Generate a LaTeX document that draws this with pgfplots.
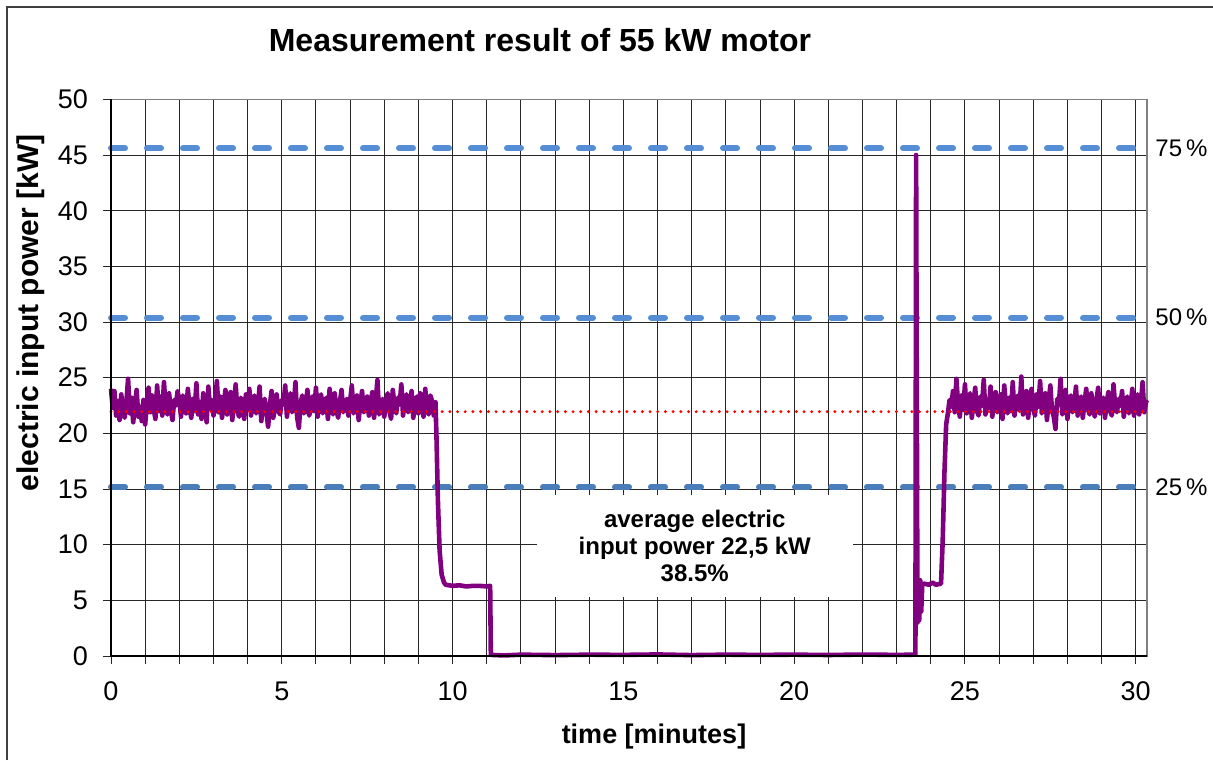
\documentclass[border=0pt]{standalone}
\usepackage{fontspec}
\setmainfont{Liberation Sans}
\usepackage{pgfplots}
\pgfplotsset{compat=1.18}
\definecolor{mpurple}{RGB}{128,0,128}
\definecolor{blueA}{RGB}{85,142,213}
\definecolor{blueB}{RGB}{74,126,187}
\begin{document}
\begin{tikzpicture}
\path[use as bounding box] (0,0) rectangle (606.5pt,380pt);
\draw[black!75, line width=0.7pt] (3.5pt,0) -- (3.5pt,376.5pt) -- (606.5pt,376.5pt);
\node[font=\fontsize{16}{19}\bfseries\selectfont] at (270pt,360pt) {Measurement result of 55 kW motor};
\node[font=\fontsize{13.5}{16}\bfseries\selectfont] at (327pt,11.5pt) {time [minutes]};
\node[font=\fontsize{15}{18}\bfseries\selectfont, rotate=90] at (15.5pt,223.5pt) {electric input power [kW]};
\begin{axis}[
  at={(55.5pt,52pt)}, anchor=south west,
  scale only axis, width=518pt, height=278.3pt,
  xmin=0, xmax=30.33, ymin=0, ymax=50,
  xtick={0,5,...,30}, minor x tick num=4,
  ytick={0,5,...,50},
  xmajorgrids, xminorgrids, ymajorgrids,
  major grid style={black!85, line width=0.5pt},
  minor grid style={black!85, line width=0.5pt},
  tick align=outside, major tick length=4pt, minor tick length=4pt,
  xtick pos=bottom, ytick pos=left,
  tick style={black!85, line width=0.5pt},
  axis line style={draw=gray, line width=0.7pt},
  tick label style={font=\fontsize{13.5}{16}\selectfont},
  xticklabel style={yshift=-5.5pt},
  yticklabel style={xshift=-4pt},
  /pgf/number format/assume math mode=true,
  clip=false,
]
\addplot[blueA, line width=3pt, dash pattern=on 7pt off 11pt, line cap=round] coordinates {(0,45.6)(30.33,45.6)};
\addplot[blueA, line width=3pt, dash pattern=on 7pt off 11pt, line cap=round] coordinates {(0,30.4)(30.33,30.4)};
\addplot[blueB, line width=3pt, dash pattern=on 7pt off 11pt, line cap=round] coordinates {(0,15.2)(30.33,15.2)};
\addplot[mpurple, line width=2.3pt, line join=round] coordinates {
(0.00,24.0)(0.05,22.3)(0.10,23.8)(0.15,21.6)(0.20,22.9)(0.25,21.2)(0.30,23.5)(0.35,22.0)(0.40,21.4)(0.45,22.8)
(0.50,24.9)(0.55,21.8)(0.60,23.2)(0.65,21.0)(0.70,22.6)(0.75,23.9)(0.80,21.5)(0.85,22.4)(0.90,21.1)(0.95,23.0)
(1.00,20.8)(1.05,22.7)(1.10,24.1)(1.15,21.9)(1.20,23.4)(1.25,22.2)(1.30,21.3)(1.35,24.3)(1.40,22.0)(1.45,23.3)
(1.50,21.6)(1.55,24.6)(1.60,22.4)(1.65,21.7)(1.70,23.6)(1.75,22.1)(1.80,21.2)(1.85,23.0)(1.90,22.5)(1.95,23.8)
(2.00,22.9)(2.05,21.5)(2.10,23.4)(2.15,22.6)(2.20,21.8)(2.25,24.0)(2.30,22.3)(2.35,21.4)(2.40,23.1)(2.45,22.0)
(2.50,24.5)(2.55,21.7)(2.60,22.8)(2.65,21.3)(2.70,23.6)(2.75,22.4)(2.80,21.0)(2.85,24.2)(2.90,22.2)(2.95,23.0)
(3.00,21.6)(3.05,22.9)(3.10,24.7)(3.15,21.9)(3.20,23.3)(3.25,21.4)(3.30,22.6)(3.35,23.9)(3.40,21.7)(3.45,22.5)
(3.50,23.7)(3.55,21.2)(3.60,22.8)(3.65,24.4)(3.70,22.0)(3.75,21.5)(3.80,23.2)(3.85,22.7)(3.90,21.3)(3.95,23.5)
(4.00,22.1)(4.05,24.0)(4.10,21.6)(4.15,22.9)(4.20,23.4)(4.25,21.8)(4.30,22.4)(4.35,24.2)(4.40,21.1)(4.45,22.7)
(4.50,23.1)(4.55,21.9)(4.60,20.6)(4.65,22.5)(4.70,23.8)(4.75,21.4)(4.80,22.2)(4.85,23.5)(4.90,22.0)(4.95,21.7)
(5.00,23.0)(5.05,22.6)(5.10,24.3)(5.15,21.5)(5.20,22.8)(5.25,23.6)(5.30,21.9)(5.35,22.3)(5.40,24.6)(5.45,21.4)
(5.50,20.5)(5.55,22.7)(5.60,23.4)(5.65,21.8)(5.70,22.4)(5.75,23.9)(5.80,21.6)(5.85,22.2)(5.90,23.3)(5.95,22.0)
(6.00,24.1)(6.05,21.5)(6.10,22.9)(6.15,23.5)(6.20,21.8)(6.25,22.6)(6.30,23.2)(6.35,21.3)(6.40,24.0)(6.45,22.4)
(6.50,21.7)(6.55,23.6)(6.60,22.1)(6.65,21.4)(6.70,22.8)(6.75,23.9)(6.80,21.9)(6.85,22.5)(6.90,23.1)(6.95,21.6)
(7.00,22.9)(7.05,24.3)(7.10,21.8)(7.15,22.4)(7.20,23.4)(7.25,21.2)(7.30,22.7)(7.35,23.8)(7.40,21.9)(7.45,22.2)
(7.50,23.3)(7.55,21.6)(7.60,22.6)(7.65,23.7)(7.70,21.4)(7.75,22.9)(7.80,24.8)(7.85,21.7)(7.90,22.3)(7.95,23.1)
(8.00,21.5)(8.05,22.8)(8.10,23.6)(8.15,22.0)(8.20,21.3)(8.25,23.9)(8.30,22.5)(8.35,21.8)(8.40,23.2)(8.45,22.6)
(8.50,24.4)(8.55,21.6)(8.60,22.9)(8.65,23.5)(8.70,21.9)(8.75,22.3)(8.80,23.8)(8.85,21.4)(8.90,22.7)(8.95,23.3)
(9.00,21.8)(9.05,23.6)(9.10,22.4)(9.15,21.5)(9.20,24.0)(9.25,22.2)(9.30,21.7)(9.35,23.4)(9.40,22.9)(9.45,21.6)
(9.50,22.8)
(9.53,19.5)(9.57,14.0)(9.62,9.5)(9.68,7.3)(9.75,6.6)(9.80,6.4)(10.00,6.3)(10.20,6.35)(10.40,6.25)(10.60,6.3)
(10.80,6.3)(11.00,6.25)(11.10,6.3)(11.12,0.1)(11.50,0.05)(12.00,0.12)(13.00,0.08)(14.00,0.12)(15.00,0.1)
(16.00,0.14)(17.00,0.08)(18.00,0.12)(19.00,0.1)(20.00,0.12)(21.00,0.09)(22.00,0.13)(23.00,0.1)(23.55,0.12)
(23.57,45.0)(23.61,3.0)(23.64,6.5)(23.66,3.2)(23.69,6.8)(23.72,4.0)(23.75,6.4)(23.80,6.5)(23.95,6.4)(24.05,6.6)
(24.15,6.4)(24.30,6.5)(24.35,10.5)(24.40,16.5)(24.45,20.8)(24.50,21.8)(24.55,23.0)
(24.60,22.4)(24.65,23.8)(24.70,21.9)(24.75,24.9)(24.80,22.6)(24.85,21.5)(24.90,23.4)(24.95,22.1)(25.00,24.4)(25.05,21.8)
(25.10,22.9)(25.15,23.6)(25.20,21.4)(25.25,22.7)(25.30,24.1)(25.35,22.0)(25.40,21.6)(25.45,23.3)(25.50,22.5)(25.55,24.8)
(25.60,21.7)(25.65,23.0)(25.70,22.3)(25.75,24.2)(25.80,21.5)(25.85,22.8)(25.90,23.7)(25.95,21.9)(26.00,22.4)(26.05,23.5)
(26.10,21.3)(26.15,24.3)(26.20,22.6)(26.25,21.8)(26.30,23.2)(26.35,22.0)(26.40,24.6)(26.45,21.6)(26.50,22.9)(26.55,23.4)
(26.60,22.1)(26.65,25.1)(26.70,21.7)(26.75,22.6)(26.80,23.8)(26.85,21.4)(26.90,22.9)(26.95,24.0)(27.00,22.2)(27.05,21.6)
(27.10,23.5)(27.15,22.4)(27.20,24.7)(27.25,21.8)(27.30,22.3)(27.35,23.6)(27.40,21.2)(27.45,22.8)(27.50,24.3)(27.55,22.0)
(27.60,21.5)(27.65,20.4)(27.70,23.1)(27.75,22.6)(27.80,24.9)(27.85,21.7)(27.90,22.4)(27.95,23.9)(28.00,21.3)(28.05,22.8)
(28.10,23.4)(28.15,21.9)(28.20,22.5)(28.25,24.2)(28.30,21.6)(28.35,22.9)(28.40,23.3)(28.45,21.4)(28.50,22.7)(28.55,24.0)
(28.60,22.2)(28.65,21.7)(28.70,23.6)(28.75,22.4)(28.80,21.5)(28.85,23.0)(28.90,24.1)(28.95,21.8)(29.00,22.6)(29.05,23.2)
(29.10,21.4)(29.15,22.8)(29.20,23.7)(29.25,22.0)(29.30,21.6)(29.35,24.4)(29.40,22.3)(29.45,21.9)(29.50,23.1)(29.55,22.5)
(29.60,23.8)(29.65,21.5)(29.70,22.7)(29.75,23.3)(29.80,21.8)(29.85,22.4)(29.90,24.0)(29.95,21.6)(30.00,22.9)(30.05,23.5)
(30.10,21.7)(30.15,22.6)(30.20,24.6)(30.25,21.9)(30.30,22.8)(30.33,23.0)
};
\addplot[red, line width=1.6pt, dash pattern=on 0pt off 3.85pt, line cap=round] coordinates {(0,21.95)(30.33,21.95)};
\node[fill=white, inner sep=0pt, minimum width=158pt, minimum height=51pt, align=center, font=\fontsize{12}{13.5}\bfseries\selectfont] at (axis cs:17.09,9.88) {average electric\\input power 22,5 kW\\38.5\%};
\draw[black, line width=0.7pt] (rel axis cs:0,1) -- (rel axis cs:0,0) -- (rel axis cs:1,0);
\node[anchor=west, inner sep=0pt, xshift=4pt, font=\fontsize{12}{14}\selectfont] at (axis cs:30.33,45.6) {75\,\%};
\node[anchor=west, inner sep=0pt, xshift=4pt, font=\fontsize{12}{14}\selectfont] at (axis cs:30.33,30.4) {50\,\%};
\node[anchor=west, inner sep=0pt, xshift=4pt, font=\fontsize{12}{14}\selectfont] at (axis cs:30.33,15.2) {25\,\%};
\end{axis}
\end{tikzpicture}
\end{document}
